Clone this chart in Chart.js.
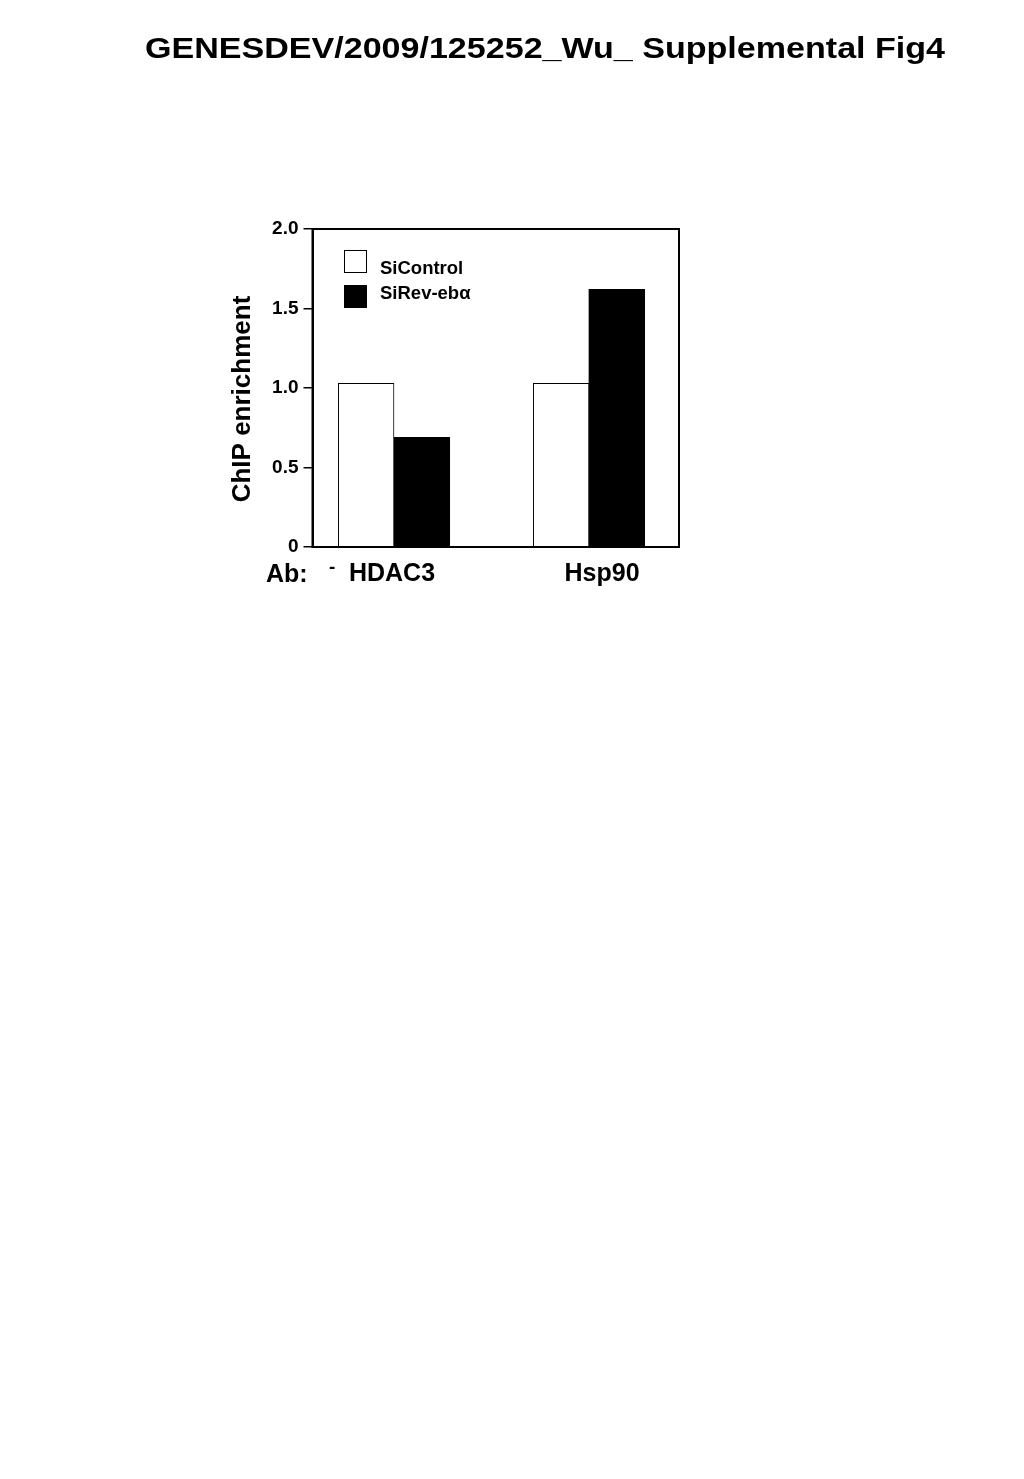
<!DOCTYPE html>
<html><head><meta charset="utf-8">
<script src="https://cdn.jsdelivr.net/npm/chart.js@4"></script>
<style>
html,body{margin:0;padding:0;background:#fff;width:1024px;height:1479px;overflow:hidden}
#wrap{position:absolute;left:0;top:0;width:1024px;height:620px}
</style>
</head><body>
<div id="wrap"><canvas id="c" width="1024" height="620"></canvas></div>
<script>
// ---- data ----
const figureTitle = 'GENESDEV/2009/125252_Wu_ Supplemental Fig4';
const categories = ['HDAC3', 'Hsp90'];
const seriesNames = ['SiControl', 'SiRev-eb\u03B1'];
const siControl = [1.03, 1.03];
const siRevErbA = [0.69, 1.62];
const yTickValues = [0, 0.5, 1.0, 1.5, 2.0];
const yTickLabels = ['0', '0.5', '1.0', '1.5', '2.0'];
const yAxisTitle = 'ChIP enrichment';
const abPrefix = 'Ab:';
const noAbMark = '-';

// ---- layout (fractions of the plot width) ----
const groupX = [0.2224, 0.7544];
const labelX = [0.2169, 0.79];

const FONT = "'Liberation Sans', Arial, Helvetica, sans-serif";
Chart.defaults.font.family = FONT;
Chart.defaults.color = '#000';

function pts(vals) { return vals.map((v, i) => ({ x: groupX[i], y: v })); }

const extras = {
  id: 'extras',
  afterDraw(chart) {
    const ctx = chart.ctx, ca = chart.chartArea;
    ctx.save();
    // frame
    ctx.strokeStyle = '#000'; ctx.lineWidth = 2;
    ctx.strokeRect(ca.left, ca.top, ca.right - ca.left, ca.bottom - ca.top);
    // y axis title
    ctx.fillStyle = '#000';
    ctx.save();
    ctx.translate(243, 399);
    ctx.rotate(-Math.PI / 2);
    ctx.font = 'bold 26px ' + FONT;
    ctx.textAlign = 'center'; ctx.textBaseline = 'middle';
    ctx.fillText(yAxisTitle, 0, 0);
    ctx.restore();
    // legend
    const ds = chart.data.datasets;
    const boxY = [250, 285];
    const textY = [269, 294];
    ds.forEach((d, i) => {
      ctx.fillStyle = d.backgroundColor;
      ctx.fillRect(344, boxY[i], 23, 23);
      ctx.strokeStyle = '#000'; ctx.lineWidth = 1;
      ctx.strokeRect(344.5, boxY[i] + 0.5, 22, 22);
      ctx.fillStyle = '#000';
      ctx.font = 'bold 18.5px ' + FONT;
      ctx.textAlign = 'left'; ctx.textBaseline = 'middle';
      ctx.fillText(d.label, 380, textY[i]);
    });
    // Ab: prefix and minus mark
    ctx.font = 'bold 25px ' + FONT;
    ctx.textAlign = 'left'; ctx.textBaseline = 'alphabetic';
    ctx.fillText(abPrefix, 266, 582);
    ctx.font = 'bold 19px ' + FONT;
    ctx.fillText(noAbMark, 329, 573);
    // figure title (condensed bold)
    ctx.font = 'bold 29px ' + FONT;
    const w = ctx.measureText(figureTitle).width;
    ctx.save();
    ctx.translate(145, 58);
    ctx.scale(800 / w, 1);
    ctx.textAlign = 'left'; ctx.textBaseline = 'alphabetic';
    ctx.fillText(figureTitle, 0, 0);
    ctx.restore();
    ctx.restore();
  }
};

new Chart(document.getElementById('c'), {
  type: 'bar',
  data: {
    datasets: [
      { label: seriesNames[0], data: pts(siControl), backgroundColor: '#ffffff', borderColor: '#000000', borderWidth: 1 },
      { label: seriesNames[1], data: pts(siRevErbA), backgroundColor: '#000000', borderColor: '#000000', borderWidth: 0 }
    ]
  },
  options: {
    responsive: false,
    animation: false,
    devicePixelRatio: 1,
    barThickness: 55.7,
    layout: { padding: { left: 200, right: 345, top: 229, bottom: 23 } },
    plugins: { legend: { display: false }, tooltip: { enabled: false }, title: { display: false } },
    scales: {
      x: {
        type: 'linear', min: 0, max: 1, offset: false,
        afterBuildTicks: s => { s.ticks = labelX.map(v => ({ value: v })); },
        afterFit: s => { s.height = 50; },
        ticks: { callback: (v, i) => categories[i], font: { size: 25, weight: 'bold' }, color: '#000', padding: 12, autoSkip: false, maxRotation: 0 },
        grid: { display: false, drawTicks: false, offset: false },
        border: { display: true, color: '#000', width: 2 }
      },
      y: {
        type: 'linear', min: 0, max: 2,
        afterBuildTicks: s => { s.ticks = yTickValues.map(v => ({ value: v })); },
        afterFit: s => { s.width = 112.5; },
        ticks: { callback: (v, i) => yTickLabels[i], font: { size: 19, weight: 'bold' }, color: '#000', padding: 5 },
        grid: { drawOnChartArea: false, drawTicks: true, tickLength: 9, color: '#000', lineWidth: 1.5 },
        border: { display: true, color: '#000', width: 2 }
      }
    }
  },
  plugins: [extras]
});
</script>
</body></html>
